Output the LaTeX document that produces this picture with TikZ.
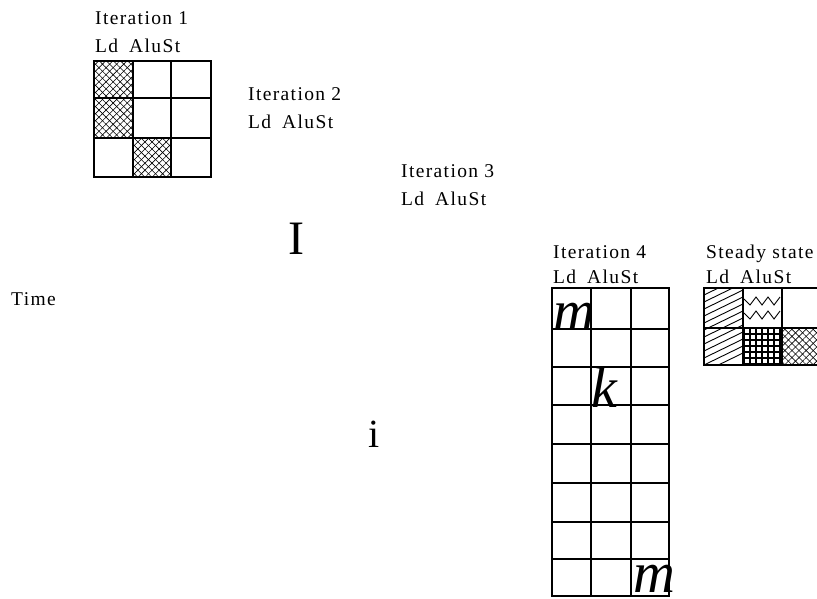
\documentclass[tikz,border=0pt]{standalone}
\usepackage{fontspec}
\setmainfont{Liberation Serif}
\newfontfamily\labfont[LetterSpace=7]{Liberation Serif}
\usetikzlibrary{patterns.meta}
\begin{document}
\begin{tikzpicture}[x=1pt,y=-1pt,
  lab/.style={anchor=base west, inner sep=0pt, font=\labfont\fontsize{19.5}{22}\selectfont},
  bigit/.style={anchor=base west, inner sep=0pt, font=\fontsize{58}{60}\selectfont\itshape},
  bigup/.style={anchor=base west, inner sep=0pt},
  cellline/.style={line width=1.1pt},
  frame/.style={line width=1.9pt},
  xhatch/.style={preaction={pattern={Lines[angle=45,distance=5pt,line width=0.6pt]}},
                 pattern={Lines[angle=-45,distance=5pt,line width=0.6pt]}},
  gridpat/.style={preaction={pattern={Lines[angle=0,distance=6pt,line width=1.3pt]}},
                 pattern={Lines[angle=90,distance=6pt,line width=1.3pt]}},
  slantline/.style={line width=0.9pt}
]
\useasboundingbox (0,0) rectangle (817,598);
\fill[white] (0,0) rectangle (817,598);

% Iteration 1
\node[lab] (it1) at (95,24) {Iteration 1};
\node[lab] (ld1) at (95,52) {Ld\hspace{11pt}AluSt};
\fill[xhatch] (94,61) rectangle (133,138);
\fill[xhatch] (133,138) rectangle (171,177);
\foreach \x in {133,171} \draw[cellline] (\x,61) -- (\x,177);
\foreach \y in {98,138} \draw[cellline] (94,\y) -- (211,\y);
\draw[frame] (94,61) rectangle (211,177);

% Iteration 2, 3
\node[lab] (it2) at (248,100) {Iteration 2};
\node[lab] (ld2) at (248,128) {Ld\hspace{11pt}AluSt};
\node[lab] (it3) at (401,177) {Iteration 3};
\node[lab] (ld3) at (401,205) {Ld\hspace{11pt}AluSt};

\node[bigup, font=\fontsize{48}{50}\selectfont] (bigI) at (288,254) {I};
\node[bigup, font=\fontsize{40}{44}\selectfont] (bigi) at (368,447) {i};
\node[lab] (time) at (11,305) {Time};

% Iteration 4
\node[lab] (it4) at (553,258) {Iteration 4};
\node[lab] (ld4) at (553,283) {Ld\hspace{11pt}AluSt};
\foreach \x in {591,631} \draw[cellline] (\x,288) -- (\x,596);
\foreach \y in {329,367,405,444,483,522,559} \draw[cellline] (552,\y) -- (669,\y);
\draw[line width=1.3pt] (552,288) rectangle (669,596);
\node[bigit] (m1) at (553,330) {m};
\node[bigit] (k1) at (591,407) {k};
\node[bigit] (m2) at (633,592) {m};

% Steady state
\node[lab] (ss) at (706,258) {Steady state};
\node[lab] (ld5) at (706,283) {Ld\hspace{11pt}AluSt};
\begin{scope}
  \clip (704,288) rectangle (743,365);
  \foreach \i in {-2,...,12} \draw[slantline] (704,288+\i*7) -- ++(39,-19);
\end{scope}
\fill[gridpat] (743,328) rectangle (782,365);
\fill[xhatch] (782,328) rectangle (822,365);
\draw[line width=0.9pt] (744,299) -- (750,305) -- (756,297) -- (762,305) -- (768,297) -- (774,305) -- (780,297);
\draw[line width=0.9pt] (744,313) -- (750,319) -- (756,311) -- (762,319) -- (768,311) -- (774,319) -- (780,311);
\foreach \x in {743,782} \draw[cellline] (\x,288) -- (\x,365);
\draw[cellline] (704,328) -- (822,328);
\draw[line width=1.6pt] (743,328) -- (822,328);
\draw[frame] (704,288) rectangle (822,365);
\end{tikzpicture}
\end{document}
